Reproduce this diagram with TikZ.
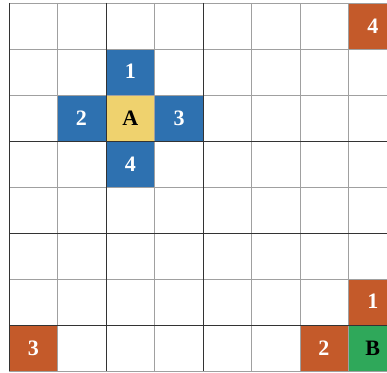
\documentclass[tikz,border=0pt]{standalone}
\usepackage{fontspec}
\setmainfont{Liberation Serif}
\usetikzlibrary{positioning}
\definecolor{bluecell}{HTML}{2E71B0}
\definecolor{orangecell}{HTML}{C45A2A}
\definecolor{yellowcell}{HTML}{EFD26E}
\definecolor{greencell}{HTML}{2FA85A}
\definecolor{gridgray}{HTML}{A0A0A0}
\tikzset{
  cell/.style={minimum width=48.5pt,minimum height=46pt,inner sep=0pt,
    font=\fontsize{22}{22}\selectfont\bfseries},
  nearcell/.style={cell,fill=bluecell,text=white},
  farcell/.style={cell,fill=orangecell,text=white},
  startcell/.style={cell,fill=yellowcell,text=black},
  goalcell/.style={cell,fill=greencell,text=black},
  gridline/.style={draw=gridgray,line width=0.8pt},
  darkline/.style={draw=black!80,line width=0.7pt}
}
\begin{document}
\begin{tikzpicture}[x=48.5pt,y=-46pt,node distance=0pt]
  \useasboundingbox (-0.1856,-0.0652) rectangle (7.794,8.022);
  % cells around A
  \node[startcell] (a) at (2.5,2.5) {A};
  \node[nearcell,above=of a] (a1) {1};
  \node[nearcell,left=of a] (a2) {2};
  \node[nearcell,right=of a] (a3) {3};
  \node[nearcell,below=of a] (a4) {4};
  % cells around B
  \node[goalcell] (b) at (7.5,7.5) {B};
  \node[farcell,above=of b] (b1) {1};
  \node[farcell,left=of b] (b2) {2};
  \node[farcell] (b3) at (0.5,7.5) {3};
  \node[farcell] (b4) at (7.5,0.5) {4};
  % grid
  \foreach \i in {1,3,5,6,7,8}
    \draw[gridline] (\i,0) -- (\i,8);
  \foreach \i in {0,1,2,4,6,8}
    \draw[gridline] (0,\i) -- (8,\i);
  \foreach \i in {0,2,4}
    \draw[darkline] (\i,0) -- (\i,8);
  \foreach \i in {3,5,7}
    \draw[darkline] (0,\i) -- (8,\i);
\end{tikzpicture}
\end{document}
